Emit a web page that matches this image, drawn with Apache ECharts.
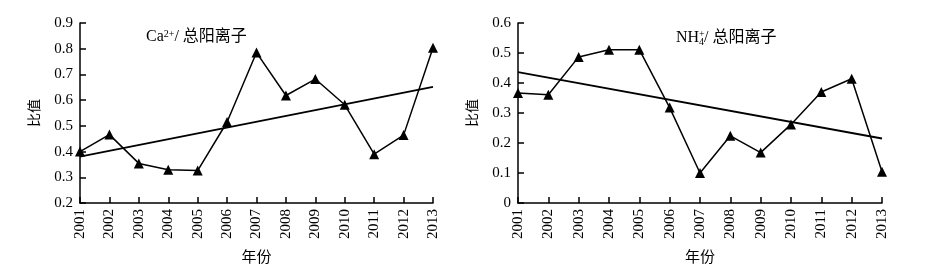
<!DOCTYPE html>
<html>
<head>
<meta charset="utf-8">
<script src="https://cdn.jsdelivr.net/npm/echarts@6/dist/echarts.min.js"></script>
<style>
  html, body { margin: 0; padding: 0; background: #fff; }
  #chart { width: 925px; height: 271px; }
</style>
</head>
<body>
<div id="chart"></div>
<script>
// 年份与两组比值
const years = ['2001', '2002', '2003', '2004', '2005', '2006', '2007', '2008', '2009', '2010', '2011', '2012', '2013']
const caRatio = [0.40, 0.466, 0.354, 0.329, 0.326, 0.515, 0.785, 0.618, 0.682, 0.582, 0.39, 0.464, 0.804]
const nh4Ratio = [0.367, 0.361, 0.487, 0.511, 0.511, 0.318, 0.10, 0.224, 0.168, 0.262, 0.37, 0.414, 0.104]
// 趋势线端点 (2001, 2013)
const caTrend = [0.38, 0.652]
const nh4Trend = [0.436, 0.215]

const FONT = "'Liberation Serif', 'Noto Sans CJK SC', serif"
const BLACK = '#000'

function xAxisOf(gridIndex) {
  return {
    type: 'category',
    gridIndex,
    data: years,
    boundaryGap: false,
    name: '年份',
    nameLocation: 'middle',
    nameGap: 48,
    nameTextStyle: { color: BLACK, fontSize: 15, fontFamily: FONT },
    axisLine: { lineStyle: { color: BLACK, width: 1.5 } },
    axisTick: { inside: true, length: 6, lineStyle: { color: BLACK, width: 1.5 } },
    axisLabel: { rotate: 90, margin: 6, color: BLACK, fontSize: 15, fontFamily: FONT, interval: 0 },
    splitLine: { show: false },
  }
}

function yAxisOf(gridIndex, min, max) {
  return {
    type: 'value',
    gridIndex,
    min,
    max,
    interval: 0.1,
    name: '比值',
    nameLocation: 'middle',
    nameGap: 38,
    nameTextStyle: { color: BLACK, fontSize: 14, fontFamily: FONT },
    axisLine: { show: true, lineStyle: { color: BLACK, width: 1.5 } },
    axisTick: { show: true, inside: true, length: 6, lineStyle: { color: BLACK, width: 1.5 } },
    axisLabel: { margin: 7, color: BLACK, fontSize: 15, fontFamily: FONT },
    splitLine: { show: false },
  }
}

function dataSeries(idx, values) {
  return {
    type: 'line',
    xAxisIndex: idx,
    yAxisIndex: idx,
    data: values,
    symbol: 'triangle',
    symbolSize: 10,
    itemStyle: { color: BLACK },
    lineStyle: { color: BLACK, width: 1.5 },
    animation: false,
  }
}

function trendSeries(idx, ends) {
  return {
    type: 'line',
    xAxisIndex: idx,
    yAxisIndex: idx,
    data: [[0, ends[0]], [years.length - 1, ends[1]]],
    symbol: 'none',
    lineStyle: { color: BLACK, width: 1.8 },
    animation: false,
  }
}

const chart = echarts.init(document.getElementById('chart'), null, { renderer: 'canvas' })

chart.setOption({
  backgroundColor: '#fff',
  animation: false,
  title: [
    {
      left: 141,
      top: 24,
      text: 'Ca{sup|2+}/ 总阳离子',
      textStyle: {
        color: BLACK,
        fontSize: 16,
        fontWeight: 'normal',
        fontFamily: FONT,
        rich: {
          sup: { fontSize: 10, fontFamily: FONT, color: BLACK, verticalAlign: 'top', padding: [0, 0, 6, 0] },
        },
      },
    },
    {
      left: 671,
      top: 24,
      text: 'NH{sp|+}{sb|4}/ 总阳离子',
      textStyle: {
        color: BLACK,
        fontSize: 16,
        fontWeight: 'normal',
        fontFamily: FONT,
        rich: {
          sp: { fontSize: 10, fontFamily: FONT, color: BLACK, width: 0, verticalAlign: 'top', padding: [0, 0, 8, 0] },
          sb: { fontSize: 10, fontFamily: FONT, color: BLACK, verticalAlign: 'bottom', padding: [6, 0, 0, 0] },
        },
      },
    },
  ],
  grid: [
    { left: 80, top: 23, width: 353, height: 182 },
    { left: 518, top: 23, width: 364, height: 182 },
  ],
  xAxis: [xAxisOf(0), xAxisOf(1)],
  yAxis: [yAxisOf(0, 0.2, 0.9), yAxisOf(1, 0, 0.6)],
  series: [
    dataSeries(0, caRatio),
    trendSeries(0, caTrend),
    dataSeries(1, nh4Ratio),
    trendSeries(1, nh4Trend),
  ],
})
</script>
</body>
</html>
